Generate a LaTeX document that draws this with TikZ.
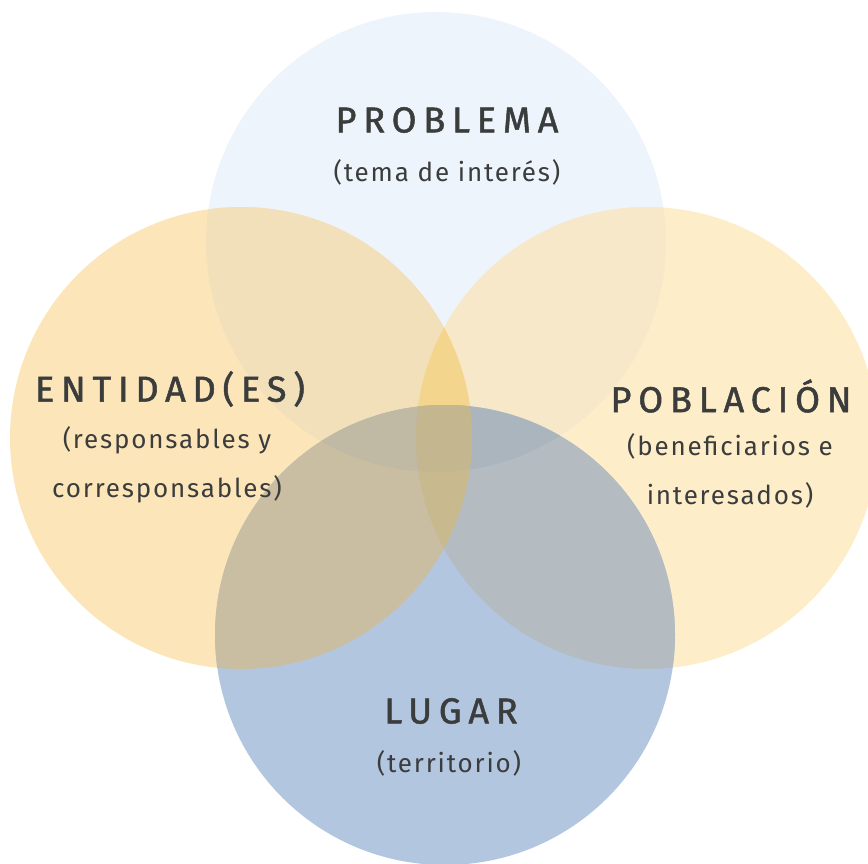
\documentclass[tikz,border=0pt]{standalone}
\usepackage{fontspec}
\setmainfont{Fira Sans}
\newfontfamily\titlefont[LetterSpace=19,FakeBold=1.4]{Fira Sans}
\newfontfamily\subfont[LetterSpace=7]{Fira Sans}
\definecolor{txt}{HTML}{3B3D3D}
\definecolor{cT}{HTML}{EEF4FC}
\definecolor{cL}{HTML}{FCE6B9}
\definecolor{cR}{HTML}{FDEDC9}
\definecolor{cB}{HTML}{B3C6DF}
\definecolor{cTL}{HTML}{F2E0BB}
\definecolor{cTR}{HTML}{F6E8C9}
\definecolor{cTB}{HTML}{C0CCDA}
\definecolor{cLR}{HTML}{F6D68F}
\definecolor{cLB}{HTML}{C9BEA1}
\definecolor{cRB}{HTML}{B5BCC1}
\definecolor{cTLR}{HTML}{F4D58D}
\definecolor{cTLB}{HTML}{C0B9A4}
\definecolor{cTRB}{HTML}{AAB5BE}
\definecolor{cLRB}{HTML}{C8B98F}
\definecolor{cTLRB}{HTML}{C4B68F}
\def\pT{(436,242) circle[radius=230]}
\def\pL{(241,438) circle[radius=231]}
\def\pR{(647,438) circle[radius=231]}
\def\pB{(445,635) circle[radius=230]}
\tikzset{
  title/.style={text=txt,font=\titlefont\fontsize{36}{40}\selectfont,anchor=center,inner sep=0pt},
  sub/.style={text=txt,font=\subfont\fontsize{26}{49}\selectfont,align=center,anchor=center,inner sep=0pt}
}
\begin{document}
\begin{tikzpicture}[x=1pt,y=-1pt]
\useasboundingbox (0,0) rectangle (868,864);
\begin{scope}
\clip (0,0) rectangle (868,864);
% single circles
\fill[cT] \pT;
\fill[cL] \pL;
\fill[cR] \pR;
\fill[cB] \pB;
% pairs
\begin{scope}\clip \pT; \fill[cTL] \pL; \end{scope}
\begin{scope}\clip \pT; \fill[cTR] \pR; \end{scope}
\begin{scope}\clip \pT; \fill[cTB] \pB; \end{scope}
\begin{scope}\clip \pL; \fill[cLR] \pR; \end{scope}
\begin{scope}\clip \pL; \fill[cLB] \pB; \end{scope}
\begin{scope}\clip \pR; \fill[cRB] \pB; \end{scope}
% triples
\begin{scope}\clip \pT; \clip \pL; \fill[cTLR] \pR; \end{scope}
\begin{scope}\clip \pT; \clip \pL; \fill[cTLB] \pB; \end{scope}
\begin{scope}\clip \pT; \clip \pR; \fill[cTRB] \pB; \end{scope}
\begin{scope}\clip \pL; \clip \pR; \fill[cLRB] \pB; \end{scope}
% all four
\begin{scope}\clip \pT; \clip \pL; \clip \pR; \fill[cTLRB] \pB; \end{scope}
\end{scope}
% labels
\node[title] (tP) at (447,120) {PROBLEMA};
\node[sub] (sP) at (447,172) {(tema de interés)};
\node[title] (tE) at (170,389) {ENTIDAD(ES)};
\node[sub] (sE) at (167,465) {(responsables y\\corresponsables)};
\node[title] (tPo) at (731,396) {POBLACIÓN};
\node[sub] (sPo) at (730,471) {(beneficiarios e\\interesados)};
\node[title] (tL) at (451,711) {LUGAR};
\node[sub] (sL) at (449,763) {(territorio)};
\end{tikzpicture}
\end{document}
